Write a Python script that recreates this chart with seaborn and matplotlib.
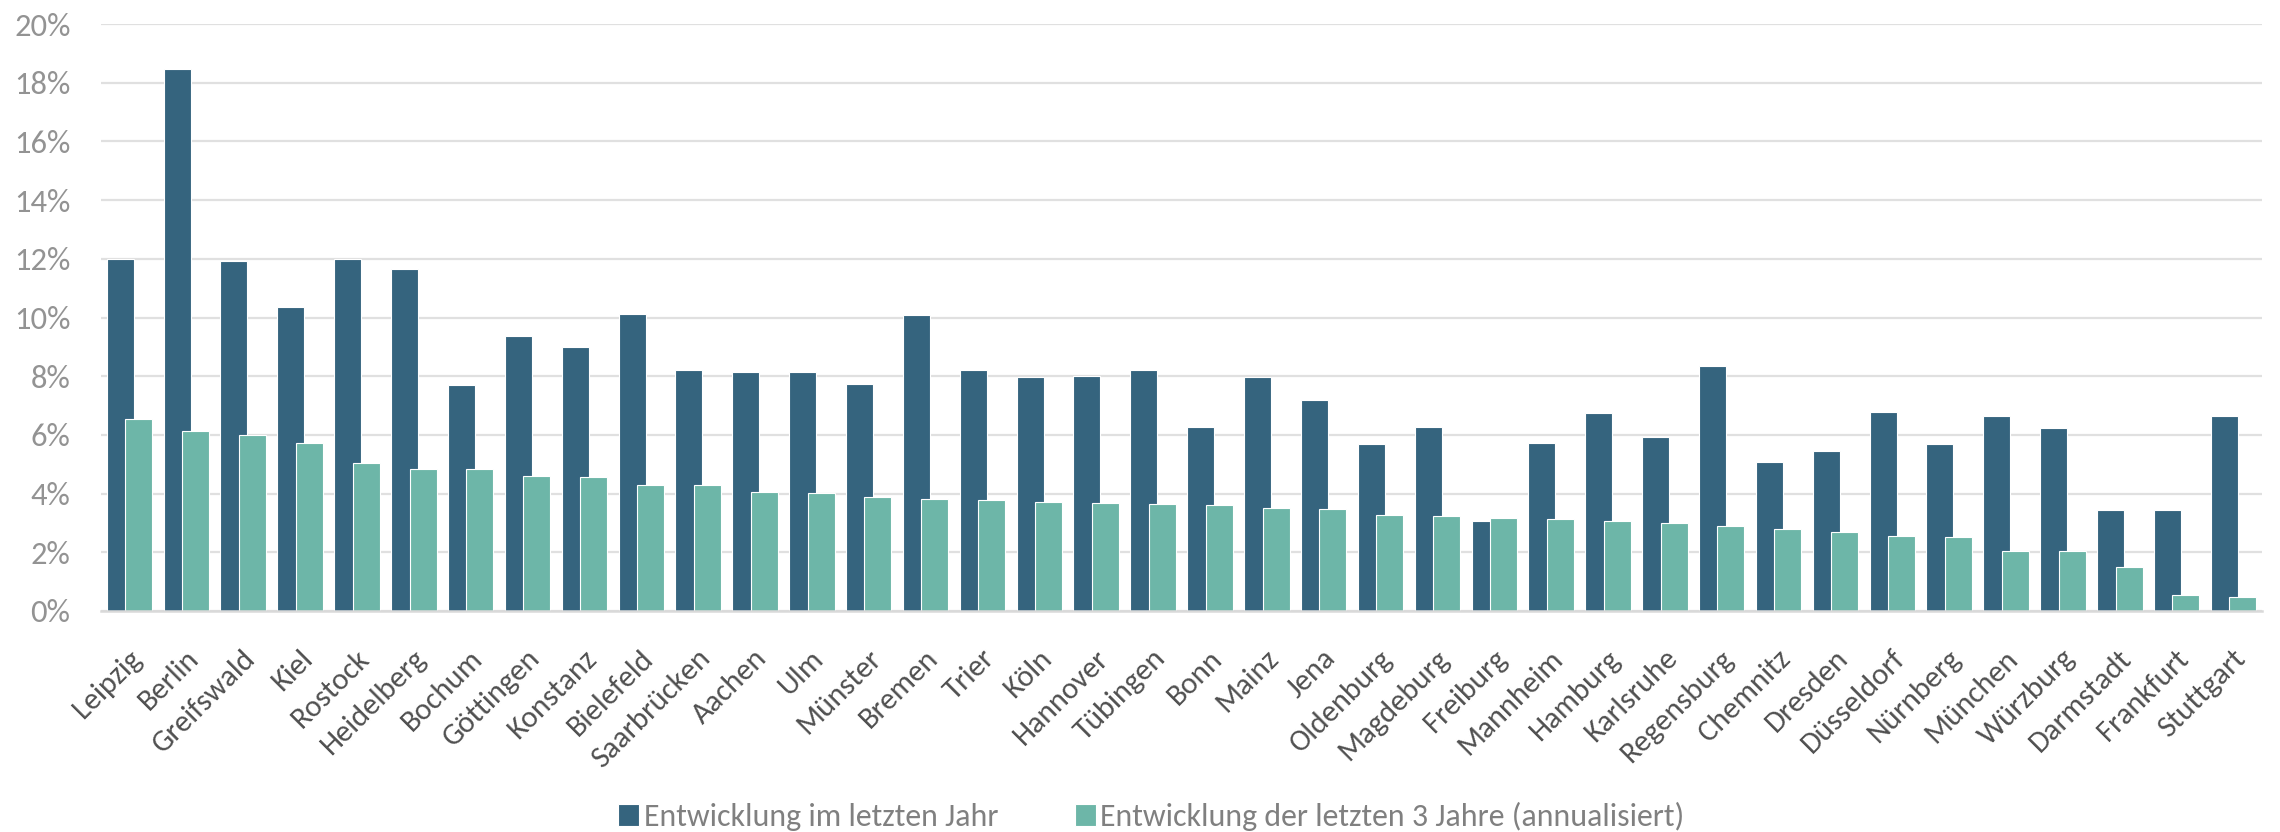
import matplotlib
matplotlib.use("Agg")
import matplotlib.pyplot as plt
import matplotlib.transforms as mtransforms
import pandas as pd
import seaborn as sns
from matplotlib import font_manager
from matplotlib.font_manager import FontProperties
from matplotlib.textpath import TextPath
from matplotlib.ticker import FuncFormatter, FixedLocator

# --- data (percent) ---------------------------------------------------------
cities = [
    "Leipzig", "Berlin", "Greifswald", "Kiel", "Rostock", "Heidelberg", "Bochum",
    "Göttingen", "Konstanz", "Bielefeld", "Saarbrücken", "Aachen", "Ulm", "Münster",
    "Bremen", "Trier", "Köln", "Hannover", "Tübingen", "Bonn", "Mainz", "Jena",
    "Oldenburg", "Magdeburg", "Freiburg", "Mannheim", "Hamburg", "Karlsruhe",
    "Regensburg", "Chemnitz", "Dresden", "Düsseldorf", "Nürnberg", "München",
    "Würzburg", "Darmstadt", "Frankfurt", "Stuttgart",
]
last_year = [
    12.0, 18.45, 11.92, 10.36, 12.0, 11.64, 7.71,
    9.38, 9.0, 10.12, 8.2, 8.15, 8.15, 7.72,
    10.09, 8.21, 7.97, 8.02, 8.21, 6.28, 7.97, 7.19,
    5.69, 6.26, 3.08, 5.71, 6.73, 5.94,
    8.36, 5.07, 5.44, 6.77, 5.69, 6.65,
    6.22, 3.44, 3.44, 6.65,
]
three_years = [
    6.53, 6.14, 6.01, 5.71, 5.04, 4.83, 4.83,
    4.60, 4.57, 4.31, 4.29, 4.07, 4.01, 3.90,
    3.83, 3.78, 3.70, 3.67, 3.66, 3.60, 3.52, 3.48,
    3.27, 3.24, 3.16, 3.13, 3.06, 3.00,
    2.88, 2.81, 2.70, 2.54, 2.51, 2.03,
    2.03, 1.49, 0.55, 0.48,
]
series_names = [
    "Entwicklung im letzten Jahr",
    "Entwicklung der letzten 3 Jahre (annualisiert)",
]
y_ticks = [0, 2, 4, 6, 8, 10, 12, 14, 16, 18, 20]

# --- style ------------------------------------------------------------------
DARK = "#35647E"
TEAL = "#6DB6A8"
GRID = "#E0E0E0"

sns.set_style("white")
installed = {f.name for f in font_manager.fontManager.ttflist}
family = next(f for f in ["Carlito", "Lato", "Open Sans", "DejaVu Sans"] if f in installed)
plt.rcParams["font.family"] = [family, "DejaVu Sans"]


def size_for_width(text, px):
    """Font size (pt at 100 dpi) that renders `text` about `px` pixels wide."""
    w = TextPath((0, 0), text, size=100,
                 prop=FontProperties(family=family)).get_extents().width
    return 72.0 * px / w


fs_legend = size_for_width(series_names[0], 352)
fs_ytick = size_for_width("0%", 38)
fs_xtick = size_for_width("Saarbrücken", 152)

df = pd.DataFrame({
    "Stadt": cities * 2,
    "Wert": last_year + three_years,
    "Reihe": [series_names[0]] * len(cities) + [series_names[1]] * len(cities),
})

fig = plt.figure(figsize=(22.8, 8.32), dpi=100)
ax = fig.add_axes([101 / 2280, 1 - 611 / 832, (2262 - 101) / 2280, (611 - 24) / 832])

sns.barplot(
    data=df, x="Stadt", y="Wert", hue="Reihe", hue_order=series_names,
    palette=[DARK, TEAL], saturation=1, width=0.65, gap=-0.46,
    edgecolor="white", linewidth=0.8, errorbar=None, ax=ax,
)

handles, labels = ax.get_legend_handles_labels()
if ax.get_legend() is not None:
    ax.get_legend().remove()

ax.set_xlim(-0.5, len(cities) - 0.5)
ax.set_ylim(0, 20)
ax.yaxis.set_major_locator(FixedLocator(y_ticks))
ax.yaxis.set_major_formatter(FuncFormatter(lambda v, _: f"{v:.0f}%"))
ax.grid(axis="y", color=GRID, linewidth=1.6)
ax.set_axisbelow(True)
for side in ("left", "right", "top"):
    ax.spines[side].set_visible(False)
ax.spines["bottom"].set_color("#D9D9D9")
ax.spines["bottom"].set_linewidth(1.8)
ax.set_xlabel("")
ax.set_ylabel("")

ax.tick_params(axis="y", length=0, pad=22, labelsize=fs_ytick, labelcolor="#939393")
ax.tick_params(axis="x", length=0, pad=31, labelsize=fs_xtick, labelcolor="#505050")
# nudge the rotated category labels slightly to the right of their ticks
nudge = mtransforms.ScaledTranslation(8 / 100, 0, fig.dpi_scale_trans)
for lbl in ax.get_xticklabels():
    lbl.set_rotation(45)
    lbl.set_ha("right")
    lbl.set_va("center")
    lbl.set_rotation_mode("anchor")
    lbl.set_transform(lbl.get_transform() + nudge)

fig.legend(
    handles, labels, loc="center", bbox_to_anchor=(0.505, 0.0185), ncol=2,
    frameon=False, fontsize=fs_legend, labelcolor="#808080",
    handlelength=0.65, handleheight=0.7, handletextpad=0.15, columnspacing=2.4,
)

fig.savefig("out.png", dpi=100, facecolor="white")
